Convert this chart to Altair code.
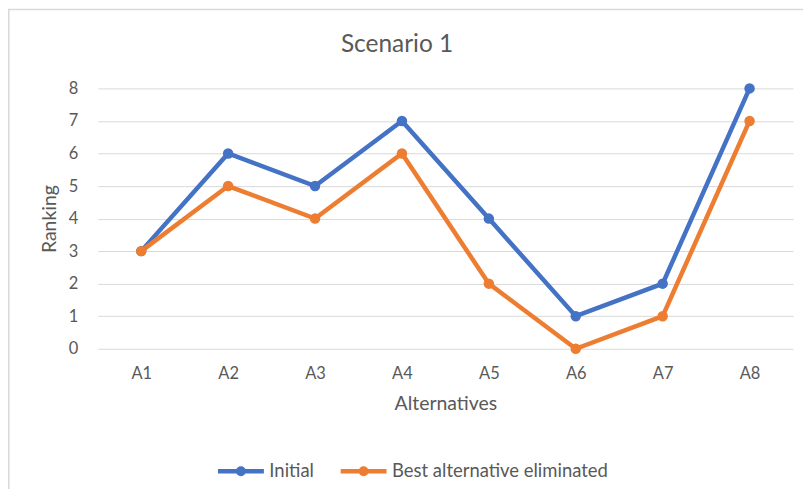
import altair as alt
import pandas as pd

categories = ["A1", "A2", "A3", "A4", "A5", "A6", "A7", "A8"]
initial = [3, 6, 5, 7, 4, 1, 2, 8]
best_eliminated = [3, 5, 4, 6, 2, 0, 1, 7]
series_names = ["Initial", "Best alternative eliminated"]
series_colors = ["#4472C4", "#ED7D31"]
y_ticks = [0, 1, 2, 3, 4, 5, 6, 7, 8]
chart_title = "Scenario 1"

rows = []
for name, vals in zip(series_names, [initial, best_eliminated]):
    for c, v in zip(categories, vals):
        rows.append({"Alternative": c, "Ranking": v, "Series": name})
df = pd.DataFrame(rows)

FONT = "Lato"
GREY = "#595959"
W, H = 697, 261

legend_symbol = ("M-1,0L1,0"
                 "M-0.12,0A0.12,0.12,0,1,1,0.12,0A0.12,0.12,0,1,1,-0.12,0Z"
                 "M-0.04,0A0.04,0.04,0,1,1,0.04,0A0.04,0.04,0,1,1,-0.04,0Z")

x_enc = alt.X(
    "Alternative:N", sort=categories,
    scale=alt.Scale(type="point", padding=0.5),
    axis=alt.Axis(labelAngle=0, domain=False, ticks=False, grid=False,
                  labelFont=FONT, labelFontSize=16.5, labelColor=GREY, labelPadding=17,
                  title="Alternatives", titleFont=FONT, titleFontSize=19.5,
                  titleColor=GREY, titleFontWeight="normal", titlePadding=12),
)
y_enc = alt.Y(
    "Ranking:Q", scale=alt.Scale(domain=[0, 8], nice=False),
    axis=alt.Axis(values=y_ticks, grid=True, gridColor="#D9D9D9", gridWidth=1,
                  domain=False, ticks=False, labelFont=FONT, labelFontSize=16.5,
                  labelColor=GREY, labelPadding=20, title="Ranking",
                  titleFont=FONT, titleFontSize=19.5, titleColor=GREY,
                  titleFontWeight="normal", titlePadding=9),
)
color_enc = alt.Color(
    "Series:N", sort=series_names,
    scale=alt.Scale(domain=series_names, range=series_colors),
    legend=alt.Legend(
        title=None, orient="none", direction="horizontal",
        legendX=118, legendY=358, padding=0,
        symbolType=legend_symbol, symbolSize=2116, symbolStrokeWidth=4.5,
        labelFont=FONT, labelFontSize=18.5, labelColor=GREY, labelOffset=3,
        labelLimit=600, columnPadding=17,
    ),
)

base = alt.Chart(df)
lines = base.mark_line(strokeWidth=4.5).encode(x=x_enc, y=y_enc, color=color_enc)
points = base.mark_circle(size=110, opacity=1).encode(x=x_enc, y=y_enc, color=color_enc)

frame = pd.DataFrame({"k": [0]})
border_left = alt.Chart(frame).mark_rule(color="#D9D9D9", strokeWidth=1.5).encode(
    x=alt.value(-89.2), y=alt.value(-79.9), y2=alt.value(H + 250))
border_top = alt.Chart(frame).mark_rule(color="#D9D9D9", strokeWidth=1.5).encode(
    x=alt.value(-89.9), x2=alt.value(W + 60), y=alt.value(-79.2))

title = alt.Chart(pd.DataFrame({"t": [chart_title]})).mark_text(
    font=FONT, fontSize=24.5, color=GREY, baseline="middle", align="center"
).encode(text="t:N", x=alt.value(300), y=alt.value(-43))

chart = alt.layer(border_left, border_top, title, lines, points).properties(
    width=W, height=H,
    autosize=alt.AutoSizeParams(type="none"),
    padding={"left": 90, "top": 80, "right": 10, "bottom": 140},
).configure_view(stroke=None)

chart.save("out.html", embed_options={"renderer": "svg", "actions": False})
